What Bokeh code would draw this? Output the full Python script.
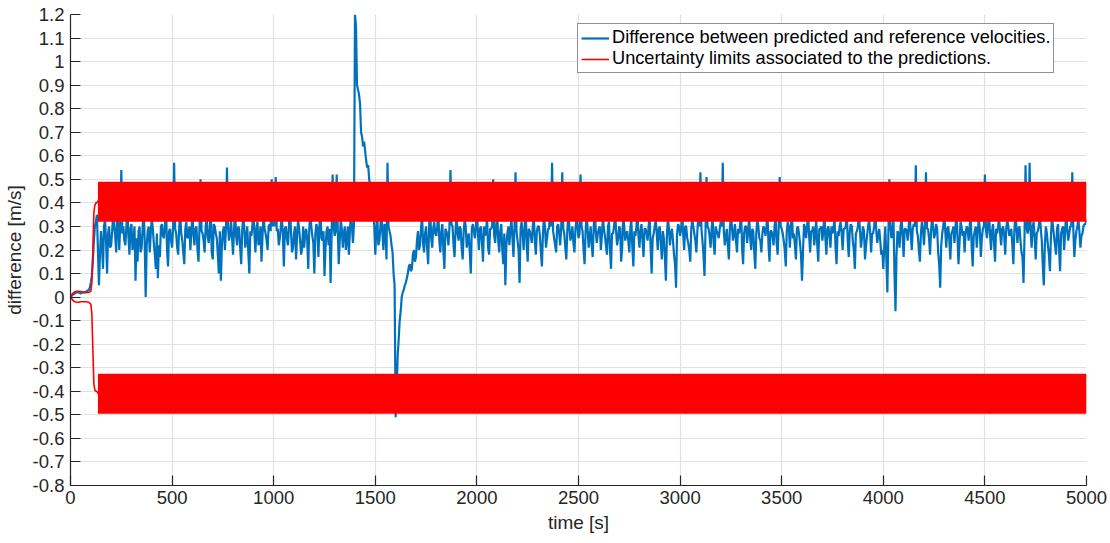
from bokeh.plotting import figure
from bokeh.models import Range1d, FixedTicker, Legend, LegendItem
from bokeh.embed import file_html
from bokeh.resources import INLINE

# ---------------- data ----------------
# difference between predicted and reference velocities, read every 10 s (t = 0, 10, ..., 5000)
difference = [
    0.00, 0.01, 0.015, 0.02, 0.02, 0.015, 0.02, 0.02, 0.025, 0.03, 0.06, 0.15, 0.30, 0.35, 0.05, 0.28, 0.12, 0.33, 0.10, 0.30,
    0.22, 0.35, 0.26, 0.40, 0.20, 0.54, 0.30, 0.22, 0.38, 0.18, 0.31, 0.24, 0.07, 0.15, 0.30, 0.21, 0.40, 0.00, 0.28, 0.19,
    0.34, 0.23, 0.12, 0.08, 0.17, 0.31, 0.25, 0.40, 0.13, 0.29, 0.21, 0.57, 0.27, 0.18, 0.35, 0.24, 0.14, 0.32, 0.26, 0.20,
    0.36, 0.22, 0.30, 0.15, 0.50, 0.27, 0.19, 0.34, 0.23, 0.38, 0.16, 0.30, 0.25, 0.10, 0.07, 0.28, 0.20, 0.55, 0.24, 0.33,
    0.18, 0.37, 0.22, 0.29, 0.14, 0.35, 0.21, 0.30, 0.10, 0.26, 0.39, 0.19, 0.32, 0.24, 0.15, 0.36, 0.27, 0.20, 0.31, 0.50,
    0.38, 0.51, 0.29, 0.25, 0.34, 0.13, 0.30, 0.22, 0.40, 0.19, 0.27, 0.16, 0.33, 0.24, 0.21, 0.21, 0.29, 0.12, 0.35, 0.26,
    0.10, 0.31, 0.17, 0.37, 0.24, 0.09, 0.28, 0.22, 0.06, 0.52, 0.26, 0.52, 0.14, 0.33, 0.21, 0.30, 0.25, 0.18, 0.36, 0.23,
    1.20, 0.90, 0.86, 0.70, 0.64, 0.62, 0.55, 0.50, 0.46, 0.38, 0.18, 0.34, 0.24, 0.36, 0.20, 0.30, 0.57, 0.28, 0.22, 0.10,
    -0.51, -0.25, -0.10, 0.00, 0.03, 0.06, 0.10, 0.14, 0.12, 0.20, 0.17, 0.28, 0.22, 0.35, 0.19, 0.30, 0.14, 0.38, 0.21, 0.32,
    0.26, 0.36, 0.19, 0.31, 0.12, 0.28, 0.22, 0.54, 0.30, 0.17, 0.35, 0.24, 0.29, 0.16, 0.33, 0.21, 0.27, 0.10, 0.31, 0.25,
    0.37, 0.20, 0.30, 0.15, 0.26, 0.34, 0.18, 0.29, 0.50, 0.23, 0.36, 0.19, 0.31, 0.14, 0.05, 0.27, 0.22, 0.33, 0.17, 0.53,
    0.24, 0.06, 0.32, 0.20, 0.38, 0.15, 0.28, 0.23, 0.35, 0.18, 0.30, 0.26, 0.13, 0.34, 0.21, 0.29, 0.37, 0.57, 0.25, 0.19,
    0.31, 0.22, 0.53, 0.27, 0.16, 0.36, 0.24, 0.30, 0.19, 0.33, 0.25, 0.52, 0.28, 0.14, 0.35, 0.21, 0.30, 0.17, 0.38, 0.23,
    0.29, 0.20, 0.34, 0.26, 0.18, 0.32, 0.12, 0.27, 0.37, 0.22, 0.30, 0.15, 0.35, 0.24, 0.28, 0.19, 0.33, 0.13, 0.26, 0.36,
    0.21, 0.31, 0.17, 0.29, 0.24, 0.35, 0.10, 0.27, 0.33, 0.20, 0.30, 0.16, 0.25, 0.07, 0.34, 0.22, 0.29, 0.18, 0.04, 0.31,
    0.26, 0.36, 0.20, 0.30, 0.23, 0.15, 0.33, 0.27, 0.19, 0.35, 0.53, 0.24, 0.09, 0.51, 0.29, 0.21, 0.34, 0.18, 0.28, 0.25,
    0.32, 0.57, 0.22, 0.29, 0.16, 0.35, 0.24, 0.31, 0.19, 0.27, 0.37, 0.14, 0.30, 0.23, 0.34, 0.20, 0.28, 0.12, 0.33, 0.25,
    0.19, 0.30, 0.26, 0.36, 0.15, 0.28, 0.22, 0.34, 0.18, 0.51, 0.29, 0.24, 0.13, 0.32, 0.21, 0.37, 0.27, 0.16, 0.30, 0.23,
    0.07, 0.31, 0.25, 0.35, 0.19, 0.28, 0.22, 0.33, 0.15, 0.29, 0.24, 0.36, 0.18, 0.30, 0.21, 0.27, 0.34, 0.14, 0.26, 0.32,
    0.20, 0.29, 0.37, 0.17, 0.31, 0.24, 0.12, 0.28, 0.35, 0.21, 0.30, 0.16, 0.26, 0.33, 0.19, 0.27, 0.36, 0.23, 0.29, 0.18,
    0.12, 0.30, 0.02, 0.50, 0.25, 0.34, -0.06, 0.28, 0.21, 0.33, 0.17, 0.29, 0.24, 0.36, 0.20, 0.31, 0.56, 0.26, 0.15, 0.32,
    0.22, 0.53, 0.29, 0.18, 0.34, 0.25, 0.31, 0.19, 0.04, 0.27, 0.35, 0.21, 0.30, 0.16, 0.28, 0.23, 0.37, 0.14, 0.32, 0.26,
    0.19, 0.30, 0.24, 0.35, 0.13, 0.28, 0.21, 0.33, 0.17, 0.29, 0.52, 0.25, 0.36, 0.20, 0.31, 0.15, 0.27, 0.34, 0.22, 0.30,
    0.18, 0.33, 0.26, 0.29, 0.14, 0.36, 0.23, 0.30, 0.19, 0.06, 0.56, 0.27, 0.57, 0.21, 0.32, 0.16, 0.28, 0.35, 0.24, 0.05,
    0.30, 0.22, 0.11, 0.34, 0.26, 0.18, 0.31, 0.11, 0.29, 0.20, 0.36, 0.24, 0.30, 0.53, 0.17, 0.28, 0.33, 0.21, 0.27, 0.31,
    0.33,
]
# the same signal read half-way between those samples (t = 5, 15, ..., 4995)
difference_mid = [
    0.005, 0.012, 0.018, 0.02, 0.018, 0.018, 0.02, 0.022, 0.028, 0.04, 0.09, 0.24, 0.32, 0.20, 0.18, 0.22, 0.30, 0.24, 0.27, 0.21,
    0.28, 0.30, 0.19, 0.29, 0.31, 0.27, 0.24, 0.30, 0.26, 0.29, 0.20, 0.30, 0.25, 0.28, 0.19, 0.29, 0.24, 0.22, 0.30, 0.27,
    0.29, 0.18, 0.27, 0.22, 0.30, 0.26, 0.31, 0.20, 0.28, 0.24, 0.30, 0.29, 0.21, 0.30, 0.27, 0.19, 0.29, 0.25, 0.30, 0.28,
    0.27, 0.29, 0.20, 0.30, 0.28, 0.24, 0.30, 0.26, 0.29, 0.19, 0.31, 0.27, 0.18, 0.28, 0.22, 0.30, 0.29, 0.30, 0.27, 0.25,
    0.29, 0.26, 0.30, 0.21, 0.28, 0.30, 0.25, 0.19, 0.28, 0.30, 0.27, 0.29, 0.22, 0.30, 0.26, 0.29, 0.24, 0.30, 0.28, 0.30,
    0.30, 0.28, 0.22, 0.30, 0.27, 0.29, 0.25, 0.30, 0.28, 0.21, 0.30, 0.26, 0.29, 0.18, 0.30, 0.27, 0.24, 0.29, 0.30, 0.23,
    0.27, 0.29, 0.30, 0.25, 0.28, 0.21, 0.30, 0.29, 0.26, 0.30, 0.28, 0.30, 0.24, 0.29, 0.27, 0.20, 0.30, 0.28, 0.30, 0.31,
    1.15, 0.88, 0.82, 0.68, 0.66, 0.58, 0.56, 0.47, 0.42, 0.30, 0.29, 0.22, 0.30, 0.27, 0.31, 0.16, 0.30, 0.26, 0.19, 0.05,
    -0.40, -0.18, -0.06, 0.02, 0.05, 0.08, 0.13, 0.11, 0.18, 0.15, 0.24, 0.20, 0.29, 0.23, 0.27, 0.21, 0.30, 0.25, 0.29, 0.27,
    0.30, 0.24, 0.28, 0.20, 0.29, 0.26, 0.30, 0.31, 0.22, 0.29, 0.27, 0.30, 0.21, 0.28, 0.30, 0.25, 0.19, 0.29, 0.28, 0.30,
    0.27, 0.29, 0.23, 0.30, 0.28, 0.21, 0.29, 0.30, 0.26, 0.30, 0.24, 0.28, 0.20, 0.27, 0.22, 0.30, 0.29, 0.25, 0.30, 0.28,
    0.20, 0.29, 0.27, 0.30, 0.22, 0.29, 0.26, 0.30, 0.24, 0.28, 0.30, 0.19, 0.27, 0.30, 0.25, 0.29, 0.30, 0.28, 0.22, 0.30,
    0.27, 0.30, 0.29, 0.21, 0.28, 0.30, 0.26, 0.23, 0.29, 0.30, 0.27, 0.30, 0.20, 0.28, 0.29, 0.25, 0.22, 0.30, 0.28, 0.27,
    0.30, 0.26, 0.29, 0.22, 0.30, 0.20, 0.27, 0.30, 0.28, 0.25, 0.29, 0.21, 0.30, 0.27, 0.24, 0.29, 0.21, 0.28, 0.30, 0.26,
    0.28, 0.24, 0.29, 0.27, 0.30, 0.21, 0.25, 0.30, 0.27, 0.29, 0.23, 0.28, 0.17, 0.26, 0.29, 0.27, 0.24, 0.14, 0.27, 0.30,
    0.29, 0.27, 0.30, 0.25, 0.20, 0.29, 0.30, 0.24, 0.28, 0.30, 0.29, 0.18, 0.28, 0.30, 0.26, 0.29, 0.23, 0.30, 0.27, 0.29,
    0.30, 0.28, 0.26, 0.22, 0.29, 0.30, 0.27, 0.24, 0.29, 0.30, 0.21, 0.27, 0.30, 0.28, 0.25, 0.29, 0.19, 0.27, 0.30, 0.24,
    0.27, 0.29, 0.30, 0.22, 0.28, 0.26, 0.30, 0.23, 0.29, 0.30, 0.27, 0.20, 0.28, 0.30, 0.29, 0.25, 0.22, 0.29, 0.27, 0.18,
    0.20, 0.29, 0.30, 0.26, 0.28, 0.30, 0.27, 0.22, 0.29, 0.30, 0.28, 0.25, 0.29, 0.26, 0.30, 0.29, 0.21, 0.28, 0.30, 0.27,
    0.29, 0.30, 0.24, 0.28, 0.30, 0.20, 0.27, 0.30, 0.29, 0.25, 0.28, 0.22, 0.30, 0.28, 0.27, 0.30, 0.29, 0.26, 0.24, 0.20,
    0.22, 0.16, 0.27, 0.30, 0.29, 0.10, 0.18, 0.27, 0.30, 0.26, 0.29, 0.28, 0.30, 0.27, 0.29, 0.30, 0.28, 0.20, 0.27, 0.29,
    0.30, 0.29, 0.25, 0.28, 0.30, 0.27, 0.29, 0.14, 0.22, 0.30, 0.28, 0.29, 0.24, 0.27, 0.30, 0.29, 0.26, 0.23, 0.30, 0.28,
    0.27, 0.29, 0.30, 0.21, 0.26, 0.30, 0.28, 0.29, 0.25, 0.30, 0.29, 0.30, 0.27, 0.28, 0.23, 0.29, 0.30, 0.27, 0.29, 0.26,
    0.29, 0.30, 0.27, 0.22, 0.28, 0.30, 0.29, 0.24, 0.17, 0.26, 0.30, 0.29, 0.28, 0.30, 0.25, 0.27, 0.30, 0.29, 0.13, 0.22,
    0.27, 0.18, 0.26, 0.30, 0.22, 0.29, 0.20, 0.27, 0.30, 0.28, 0.29, 0.27, 0.30, 0.29, 0.24, 0.30, 0.28, 0.26, 0.30, 0.31,
]
sample_step = 10

# uncertainty limits: start-up transient
limit_start_t = [0, 10, 20, 30, 40, 50, 60, 70, 80, 90, 100, 105, 110, 115, 120, 125, 130, 135]
upper_start = [0.0, 0.015, 0.022, 0.025, 0.025, 0.024, 0.022, 0.02, 0.02, 0.02, 0.025, 0.06, 0.2, 0.36, 0.39, 0.40, 0.40, 0.41]
lower_start = [0.0, -0.012, -0.02, -0.022, -0.022, -0.02, -0.02, -0.02, -0.02, -0.022, -0.03, -0.07, -0.22, -0.37, -0.395, -0.40, -0.40, -0.41]

# uncertainty limits: envelope of the fast oscillation after start-up
limit_band_t = [135, 5000]
upper_band_max = [0.49, 0.49]
upper_band_min = [0.32, 0.32]
lower_band_max = [-0.325, -0.325]
lower_band_min = [-0.495, -0.495]

x_ticks = [0, 500, 1000, 1500, 2000, 2500, 3000, 3500, 4000, 4500, 5000]
y_ticks = [-0.8, -0.7, -0.6, -0.5, -0.4, -0.3, -0.2, -0.1, 0.0, 0.1, 0.2, 0.3, 0.4, 0.5,
           0.6, 0.7, 0.8, 0.9, 1.0, 1.1, 1.2]
y_tick_labels = ["-0.8", "-0.7", "-0.6", "-0.5", "-0.4", "-0.3", "-0.2", "-0.1", "0", "0.1",
                 "0.2", "0.3", "0.4", "0.5", "0.6", "0.7", "0.8", "0.9", "1", "1.1", "1.2"]

label_blue = "Difference between predicted and reference velocities."
label_red = "Uncertainty limits associated to the predictions."

# merge the two readings into one time series
assert len(difference_mid) == len(difference) - 1
diff_t, diff_v = [], []
for i, v in enumerate(difference):
    diff_t.append(i * sample_step)
    diff_v.append(v)
    if i < len(difference_mid):
        diff_t.append(i * sample_step + sample_step / 2)
        diff_v.append(difference_mid[i])

# ---------------- figure ----------------
FONT = "Liberation Sans"
TXT = "#262626"
BLUE = "#0072BD"
RED = "#FF0000"

p = figure(width=1110, height=543, output_backend="svg", toolbar_location=None,
           x_range=Range1d(0, 5000), y_range=Range1d(-0.8, 1.2))
p.min_border_left = 70
p.min_border_right = 24
p.min_border_top = 14
p.min_border_bottom = 58
p.outline_line_color = None
p.background_fill_color = "white"
p.border_fill_color = "white"

for ax in (p.xaxis[0], p.yaxis[0]):
    ax.axis_line_color = TXT
    ax.axis_line_width = 1.2
    ax.major_tick_line_color = TXT
    ax.major_tick_line_width = 1.2
    ax.major_tick_in = 10
    ax.major_tick_out = 0
    ax.minor_tick_line_color = None
    ax.major_label_text_font = FONT
    ax.major_label_text_font_size = "18.5px"
    ax.major_label_text_color = TXT
    ax.axis_label_text_font = FONT
    ax.axis_label_text_font_size = "19px"
    ax.axis_label_text_font_style = "normal"
    ax.axis_label_text_color = TXT

p.xaxis.ticker = FixedTicker(ticks=x_ticks)
p.yaxis.ticker = FixedTicker(ticks=y_ticks)
p.yaxis.major_label_overrides = {t: s for t, s in zip(y_ticks, y_tick_labels)}
p.xaxis.axis_label = "time [s]"
p.yaxis.axis_label = "difference [m/s]"
p.xaxis.major_label_standoff = 5
p.yaxis.major_label_standoff = 6
p.xaxis.axis_label_standoff = 5
p.yaxis.axis_label_standoff = 5

p.xgrid.ticker = FixedTicker(ticks=x_ticks)
p.ygrid.ticker = FixedTicker(ticks=y_ticks)
for g in (p.xgrid[0], p.ygrid[0]):
    g.grid_line_color = "#e1e1e1"
    g.grid_line_width = 1.2

blue_r = p.line(diff_t, diff_v, line_color=BLUE, line_width=2.2)

red_up = p.line(limit_start_t, upper_start, line_color=RED, line_width=1.6)
p.line(limit_start_t, lower_start, line_color=RED, line_width=1.6)
p.varea(x=limit_band_t, y1=upper_band_min, y2=upper_band_max, fill_color=RED)
p.varea(x=limit_band_t, y1=lower_band_min, y2=lower_band_max, fill_color=RED)

legend = Legend(items=[LegendItem(label=label_blue, renderers=[blue_r]),
                       LegendItem(label=label_red, renderers=[red_up])],
                location=(507, 412))
legend.label_text_font = FONT
legend.label_text_font_size = "18.2px"
legend.label_text_color = "black"
legend.glyph_width = 28
legend.glyph_height = 20
legend.label_height = 20
legend.label_standoff = 3
legend.spacing = 0
legend.padding = 3
legend.border_line_color = TXT
legend.border_line_width = 1.2
legend.background_fill_color = "white"
legend.background_fill_alpha = 1.0
p.add_layout(legend)

open("out.html", "w").write(file_html(p, INLINE))
